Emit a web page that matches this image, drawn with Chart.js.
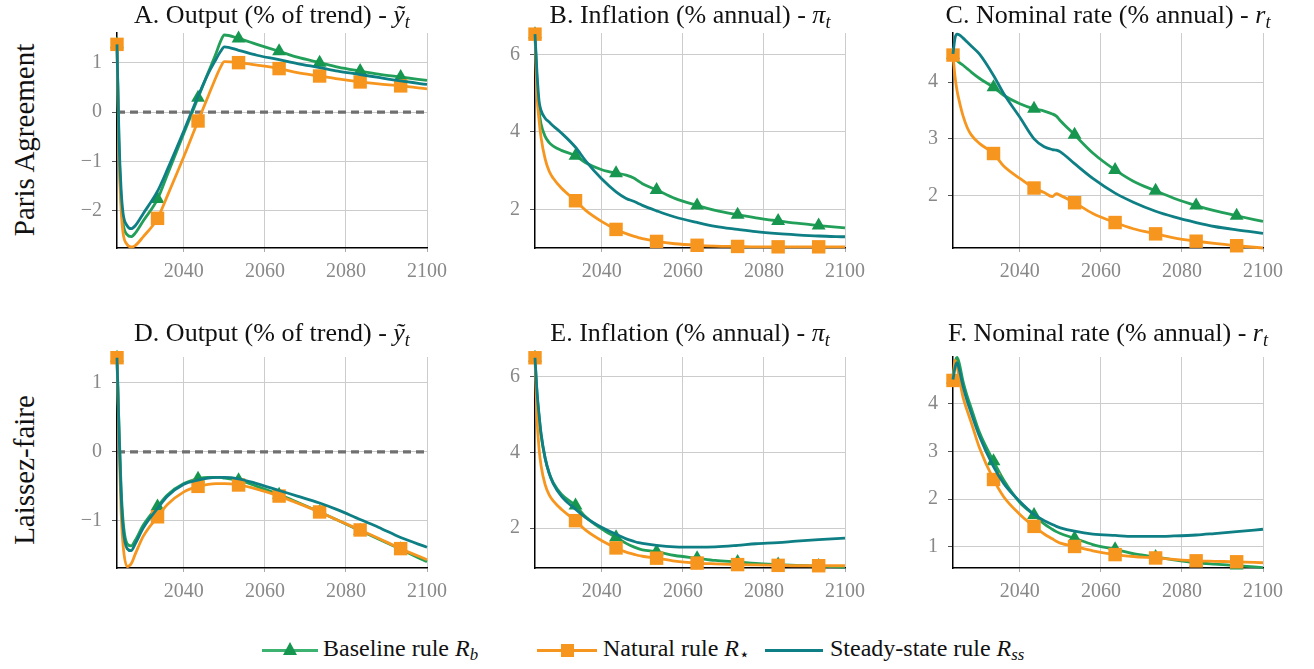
<!DOCTYPE html>
<html>
<head>
<meta charset="utf-8">
<script src="https://cdn.jsdelivr.net/npm/chart.js@4.4.1/dist/chart.umd.min.js"></script>
<style>
  body { margin: 0; width: 1314px; height: 669px; background: #fff; position: relative; overflow: hidden;
         font-family: "Liberation Serif", serif; color: #111; }
  canvas { position: absolute; }
  .title { position: absolute; font-size: 26px; white-space: nowrap; transform: translateX(-50%); }
  .rowlab { position: absolute; font-size: 29px; white-space: nowrap; transform: translate(-50%, -50%) rotate(-90deg); }
  sub { font-size: 70%; vertical-align: -0.25em; line-height: 0; }
  .leg { position: absolute; font-size: 24px; white-space: nowrap; top: 635px; }
  .swatch { position: absolute; height: 3px; top: 649px; }
  .tri { position: absolute; width: 0; height: 0; border-left: 7px solid transparent; border-right: 7px solid transparent; border-bottom: 13px solid #17964f; }
  .sq { position: absolute; width: 13px; height: 13px; background: #f7961f; }
</style>
</head>
<body>
<script>
// x positions of the samples (years)
const years = [2023.5, 2024, 2024.5, 2025, 2026, 2027, 2028, 2030, 2033.5, 2036, 2040, 2043.5, 2046,
  2048, 2049, 2050, 2053.5, 2058, 2063.5, 2068, 2073.5, 2078, 2083.5, 2088, 2093.5, 2100];
const markerYears = [2023.5, 2033.5, 2043.5, 2053.5, 2063.5, 2073.5, 2083.5, 2093.5];
const xTicks = [2040, 2060, 2080, 2100];

// Paris Agreement
const parisOutputBaseline = [1.37, -0.7, -1.75, -2.25, -2.48, -2.52, -2.45, -2.2, -1.76, -1.25, -0.43, 0.29, 0.8, 1.2, 1.42, 1.56, 1.49, 1.37, 1.23, 1.11, 1.0, 0.91, 0.83, 0.77, 0.71, 0.64];
const parisOutputNatural  = [1.37, -0.9, -1.95, -2.45, -2.68, -2.73, -2.7, -2.52, -2.15, -1.68, -0.9, -0.18, 0.32, 0.72, 0.9, 1.02, 1.0, 0.95, 0.88, 0.8, 0.73, 0.67, 0.61, 0.57, 0.53, 0.47];
const parisOutputSteady   = [1.37, -0.55, -1.55, -2.05, -2.3, -2.36, -2.3, -2.05, -1.6, -1.15, -0.38, 0.32, 0.78, 1.08, 1.22, 1.32, 1.25, 1.15, 1.06, 0.98, 0.9, 0.83, 0.76, 0.7, 0.63, 0.56];

const parisInflBaseline = [6.52, 5.3, 4.55, 4.2, 3.88, 3.72, 3.63, 3.52, 3.38, 3.2, 3.02, 2.93, 2.88, 2.8, 2.73, 2.66, 2.5, 2.28, 2.1, 1.97, 1.86, 1.78, 1.7, 1.64, 1.58, 1.52];
const parisInflNatural  = [6.52, 4.95, 4.3, 3.85, 3.3, 2.98, 2.8, 2.55, 2.22, 1.97, 1.68, 1.48, 1.37, 1.3, 1.27, 1.24, 1.17, 1.11, 1.07, 1.05, 1.04, 1.03, 1.03, 1.03, 1.03, 1.03];
const parisInflSteady   = [6.52, 5.5, 4.8, 4.55, 4.35, 4.25, 4.15, 3.97, 3.6, 3.25, 2.78, 2.45, 2.28, 2.2, 2.15, 2.1, 1.96, 1.8, 1.66, 1.56, 1.48, 1.42, 1.37, 1.34, 1.31, 1.29];

const parisRateBaseline = [4.48, 4.42, 4.38, 4.35, 4.3, 4.24, 4.18, 4.07, 3.91, 3.77, 3.62, 3.53, 3.49, 3.44, 3.4, 3.32, 3.07, 2.75, 2.45, 2.25, 2.08, 1.95, 1.82, 1.73, 1.64, 1.54];
const parisRateNatural  = [4.48, 4.1, 3.85, 3.68, 3.4, 3.2, 3.07, 2.92, 2.74, 2.52, 2.3, 2.13, 2.05, 1.98, 2.03, 2.0, 1.87, 1.68, 1.52, 1.41, 1.32, 1.25, 1.19, 1.15, 1.11, 1.07];
const parisRateSteady   = [4.5, 4.78, 4.85, 4.84, 4.78, 4.71, 4.64, 4.5, 4.12, 3.8, 3.38, 3.0, 2.86, 2.81, 2.8, 2.77, 2.56, 2.3, 2.04, 1.88, 1.72, 1.62, 1.52, 1.45, 1.39, 1.33];

// Laissez-faire
const laissezOutputBaseline = [1.36, 0.35, -0.5, -1.0, -1.33, -1.36, -1.28, -1.06, -0.79, -0.62, -0.46, -0.39, -0.37, -0.37, -0.37, -0.38, -0.41, -0.5, -0.62, -0.73, -0.87, -0.99, -1.14, -1.26, -1.41, -1.59];
const laissezOutputNatural  = [1.36, 0.15, -0.85, -1.35, -1.66, -1.62, -1.48, -1.22, -0.94, -0.76, -0.58, -0.5, -0.47, -0.46, -0.46, -0.46, -0.48, -0.54, -0.64, -0.74, -0.87, -0.99, -1.13, -1.25, -1.4, -1.56];
const laissezOutputSteady   = [1.36, 0.3, -0.6, -1.1, -1.4, -1.43, -1.33, -1.1, -0.82, -0.64, -0.47, -0.41, -0.38, -0.37, -0.37, -0.37, -0.39, -0.46, -0.56, -0.64, -0.74, -0.84, -0.98, -1.09, -1.24, -1.38];

const laissezInflBaseline = [6.5, 5.55, 4.95, 4.45, 3.85, 3.45, 3.2, 2.9, 2.6, 2.3, 1.98, 1.76, 1.6, 1.5, 1.46, 1.43, 1.38, 1.28, 1.21, 1.15, 1.11, 1.07, 1.04, 1.02, 1.0, 0.97];
const laissezInflNatural  = [6.5, 4.9, 4.1, 3.65, 3.15, 2.88, 2.72, 2.5, 2.2, 1.95, 1.67, 1.48, 1.37, 1.31, 1.28, 1.26, 1.21, 1.13, 1.08, 1.06, 1.04, 1.03, 1.02, 1.01, 1.01, 1.01];
const laissezInflSteady   = [6.5, 5.6, 5.0, 4.5, 3.85, 3.45, 3.18, 2.85, 2.5, 2.28, 2.02, 1.84, 1.72, 1.65, 1.62, 1.6, 1.55, 1.51, 1.5, 1.51, 1.55, 1.59, 1.62, 1.66, 1.7, 1.74];

const laissezRateBaseline = [4.5, 4.85, 4.96, 4.85, 4.45, 4.15, 3.9, 3.4, 2.79, 2.4, 1.93, 1.67, 1.48, 1.37, 1.32, 1.28, 1.18, 1.05, 0.95, 0.86, 0.79, 0.73, 0.67, 0.64, 0.61, 0.57];
const laissezRateNatural  = [4.48, 4.9, 4.78, 4.55, 4.12, 3.85, 3.6, 3.08, 2.41, 2.05, 1.68, 1.43, 1.27, 1.17, 1.12, 1.08, 1.01, 0.92, 0.84, 0.8, 0.77, 0.74, 0.71, 0.7, 0.69, 0.67];
const laissezRateSteady   = [4.5, 4.75, 4.85, 4.72, 4.35, 4.05, 3.8, 3.32, 2.68, 2.33, 1.95, 1.68, 1.55, 1.47, 1.43, 1.4, 1.33, 1.27, 1.24, 1.22, 1.22, 1.23, 1.25, 1.28, 1.32, 1.37];

// y tick labels per panel
const outputTicksParis = [-2, -1, 0, 1];
const outputTicksLaissez = [-1, 0, 1];
const inflTicks = [2, 4, 6];
const rateTicksParis = [2, 3, 4];
const rateTicksLaissez = [1, 2, 3, 4];

// colours
const GREEN = '#22a05a', GREEN_MARK = '#17964f', ORANGE = '#f7961f', TEAL = '#0e7f84';
const TICK_FONT = '"Liberation Serif", serif';

const panels = [
  { col: 0, row: 0, title: 'A. Output (% of trend) - <i>ỹ<sub>t</sub></i>', base: parisOutputBaseline, nat: parisOutputNatural, ss: parisOutputSteady, ticks: outputTicksParis, min: -2.75, max: 1.6, zero: true },
  { col: 1, row: 0, title: 'B. Inflation (% annual) - <i>π<sub>t</sub></i>', base: parisInflBaseline, nat: parisInflNatural, ss: parisInflSteady, ticks: inflTicks, min: 1.0, max: 6.55 },
  { col: 2, row: 0, title: 'C. Nominal rate (% annual) - <i>r<sub>t</sub></i>', base: parisRateBaseline, nat: parisRateNatural, ss: parisRateSteady, ticks: rateTicksParis, min: 1.07, max: 4.87 },
  { col: 0, row: 1, title: 'D. Output (% of trend) - <i>ỹ<sub>t</sub></i>', base: laissezOutputBaseline, nat: laissezOutputNatural, ss: laissezOutputSteady, ticks: outputTicksLaissez, min: -1.68, max: 1.37, zero: true },
  { col: 1, row: 1, title: 'E. Inflation (% annual) - <i>π<sub>t</sub></i>', base: laissezInflBaseline, nat: laissezInflNatural, ss: laissezInflSteady, ticks: inflTicks, min: 0.95, max: 6.52 },
  { col: 2, row: 1, title: 'F. Nominal rate (% annual) - <i>r<sub>t</sub></i>', base: laissezRateBaseline, nat: laissezRateNatural, ss: laissezRateSteady, ticks: rateTicksLaissez, min: 0.56, max: 4.97 },
];

// plot-area geometry
const plotLeft = [117, 535, 953];
const plotWidth = 310;
const plotTop = [33, 357];
const plotHeight = [215, 211];
const titleTop = [0, 318];
const PAD_L = 60, PAD_T = 25, PAD_R = 32, PAD_B = 40;

const pts = arr => years.map((x, i) => ({ x, y: arr[i] }));
const isMarker = ctx => ctx.raw && markerYears.includes(ctx.raw.x);
const fmt = v => (v < 0 ? '\u2212' + Math.abs(v) : String(v));

function makePanel(p) {
  const canvas = document.createElement('canvas');
  const w = PAD_L + plotWidth + PAD_R;
  const h = PAD_T + plotHeight[p.row] + PAD_B;
  canvas.width = w; canvas.height = h;
  canvas.style.left = (plotLeft[p.col] - PAD_L) + 'px';
  canvas.style.top = (plotTop[p.row] - PAD_T) + 'px';
  canvas.style.width = w + 'px'; canvas.style.height = h + 'px';
  document.body.appendChild(canvas);

  const t = document.createElement('div');
  t.className = 'title';
  t.innerHTML = p.title;
  t.style.left = (plotLeft[p.col] + plotWidth / 2) + 'px';
  t.style.top = titleTop[p.row] + 'px';
  document.body.appendChild(t);

  const datasets = [
    { data: pts(p.base), borderColor: GREEN, backgroundColor: GREEN_MARK, borderWidth: 2.8,
      pointStyle: 'triangle', pointRadius: c => (isMarker(c) ? 8 : 0), pointBorderWidth: 0, order: 3 },
    { data: pts(p.nat), borderColor: ORANGE, backgroundColor: ORANGE, borderWidth: 2.8,
      pointStyle: 'rect', pointRadius: c => (isMarker(c) ? 9.5 : 0), pointBorderWidth: 0, order: 2 },
    { data: pts(p.ss), borderColor: TEAL, borderWidth: 2.8, pointRadius: 0, order: 1 },
  ];
  if (p.zero) {
    datasets.push({ data: [{ x: 2023.5, y: 0 }, { x: 2100, y: 0 }], borderColor: '#707070', borderWidth: 3.2,
      borderDash: [8, 5], pointRadius: 0, order: 10 });
  }
  datasets.forEach(d => { d.cubicInterpolationMode = 'monotone'; d.clip = false; d.fill = false; });

  new Chart(canvas, {
    type: 'line',
    data: { datasets },
    options: {
      responsive: false,
      animation: false,
      devicePixelRatio: 1,
      layout: { padding: { left: 0, top: PAD_T, right: PAD_R, bottom: 0 } },
      plugins: { legend: { display: false }, tooltip: { enabled: false } },
      scales: {
        x: {
          type: 'linear', min: 2023.5, max: 2100,
          afterBuildTicks: a => { a.ticks = xTicks.map(v => ({ value: v })); },
          afterFit: s => { s.height = PAD_B; },
          grid: { color: '#cccccc', lineWidth: 1, tickLength: 4, tickColor: '#aaaaaa' },
          border: { color: '#000', width: 1.5 },
          ticks: { font: { family: TICK_FONT, size: 20 }, color: '#888', padding: 8, maxRotation: 0, callback: v => String(v) },
        },
        y: {
          min: p.min, max: p.max,
          afterBuildTicks: a => { a.ticks = p.ticks.map(v => ({ value: v })); },
          afterFit: s => { s.width = PAD_L; },
          grid: { color: '#cccccc', lineWidth: 1, tickLength: 5, tickColor: '#555' },
          border: { color: '#000', width: 1.5 },
          ticks: { font: { family: TICK_FONT, size: 20 }, color: '#888', padding: 10, callback: fmt },
        },
      },
    },
  });
}

panels.forEach(makePanel);
</script>

<div class="rowlab" style="left:24px; top:140px;">Paris Agreement</div>
<div class="rowlab" style="left:24px; top:470px;">Laissez-faire</div>

<div class="swatch" style="left:262px; width:56px; background:#3cb371;"></div>
<div class="tri" style="left:283px; top:642px;"></div>
<div class="leg" style="left:323px;">Baseline rule <i>R<sub>b</sub></i></div>

<div class="swatch" style="left:537px; width:60px; background:#f7961f;"></div>
<div class="sq" style="left:561px; top:644px;"></div>
<div class="leg" style="left:603px;">Natural rule <i>R</i><sub>⋆</sub></div>

<div class="swatch" style="left:765px; width:58px; background:#0e7f84;"></div>
<div class="leg" style="left:830px;">Steady-state rule <i>R<sub>ss</sub></i></div>
</body>
</html>
